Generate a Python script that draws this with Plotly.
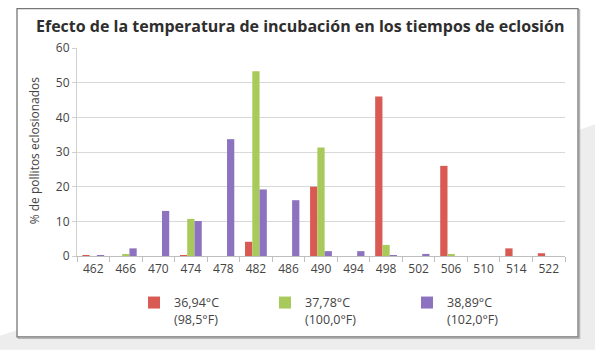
import plotly.graph_objects as go

categories = ["462", "466", "470", "474", "478", "482", "486", "490",
              "494", "498", "502", "506", "510", "514", "522"]
red_vals = [0.1, 0, 0, 0.2, 0, 4.1, 0, 20.0, 0, 46.0, 0, 26.0, 0, 2.2, 0.8]
green_vals = [0, 0.5, 0, 10.7, 0, 53.3, 0, 31.3, 0, 3.2, 0, 0.3, 0, 0, 0]
purple_vals = [0.2, 2.2, 13.0, 10.1, 33.7, 19.2, 16.1, 1.4, 1.4, 0.2, 0.6, 0, 0, 0, 0]
series_names = ["36,94°C<br>(98,5°F)", "37,78°C<br>(100,0°F)", "38,89°C<br>(102,0°F)"]
colors = ["#d85a53", "#a7ca5b", "#8d73bf"]
title_text = "Efecto de la temperatura de incubación en los tiempos de eclosión"
ytitle = "% de pollitos eclosionados"

W, H = 595, 350
L, R, T, B = 77, 565, 47.5, 256  # plot area in px


def px(x):
    return (x - L) / (R - L)


def py(y):
    return (B - y) / (B - T)


FONT = "Open Sans"
fig = go.Figure()
legends = ["legend", "legend2", "legend3"]
for vals, name, col, lg in zip([red_vals, green_vals, purple_vals], series_names, colors, legends):
    fig.add_trace(go.Bar(x=categories, y=vals, name=name, marker_color=col,
                         marker_line_width=0, legend=lg))

leg_common = dict(orientation="v", yanchor="top", xanchor="left",
                  font=dict(family=FONT, size=12.5, color="#444444"),
                  bgcolor="rgba(0,0,0,0)", valign="top", itemwidth=30,
                  tracegroupgap=0)

shapes = [
    dict(type="path", xref="paper", yref="paper", layer="below",
         path=f"M {px(0)},{py(336)} L {px(60)},{py(316)} L {px(578)},{py(130)} "
              f"L {px(595)},{py(124)} L {px(595)},{py(350)} L {px(0)},{py(350)} Z",
         fillcolor="#ededed", line=dict(width=0)),
    dict(type="rect", xref="paper", yref="paper", layer="below",
         x0=px(18.5), x1=px(579.5), y0=py(338.5), y1=py(9.5),
         fillcolor="rgba(0,0,0,0)", line=dict(color="#b5b5b5", width=1.5)),
    dict(type="rect", xref="paper", yref="paper", layer="below",
         x0=px(17), x1=px(578), y0=py(337), y1=py(8),
         fillcolor="white", line=dict(color="#777777", width=1.3)),
]

fig.update_layout(
    width=W, height=H,
    margin=dict(l=L, r=W - R, t=T, b=H - B, pad=0),
    paper_bgcolor="white", plot_bgcolor="rgba(0,0,0,0)",
    barmode="group", bargap=0.33, bargroupgap=0,
    showlegend=True,
    legend=dict(x=px(134), y=py(288), **leg_common),
    legend2=dict(x=px(265), y=py(288), **leg_common),
    legend3=dict(x=px(407), y=py(288), **leg_common),
    shapes=shapes,
    annotations=[
        dict(text=f"<b>{title_text}</b>", xref="paper", yref="paper",
             x=px(300), y=py(25), xanchor="center", yanchor="middle",
             showarrow=False, font=dict(family=FONT, size=16, color="#2e2e2e")),
        dict(text=ytitle, xref="paper", yref="paper", x=px(34), y=py(150),
             xanchor="center", yanchor="middle", textangle=-90, showarrow=False,
             font=dict(family=FONT, size=12, color="#444444")),
    ],
    xaxis=dict(type="category", tickson="boundaries", ticks="outside", ticklen=5,
               tickcolor="#bfbfbf", showline=True, linecolor="#bfbfbf", linewidth=1,
               showgrid=False, tickfont=dict(family=FONT, size=12, color="#444444"),
               ticklabelstandoff=2),
    yaxis=dict(range=[0, 60], dtick=10, ticks="outside", ticklen=4, tickcolor="#d0d0d0",
               showline=True, linecolor="#d0d0d0", gridcolor="#d9d9d9", gridwidth=1,
               zeroline=False, tickfont=dict(family=FONT, size=12, color="#444444")),
)

fig.write_html("out.html")
